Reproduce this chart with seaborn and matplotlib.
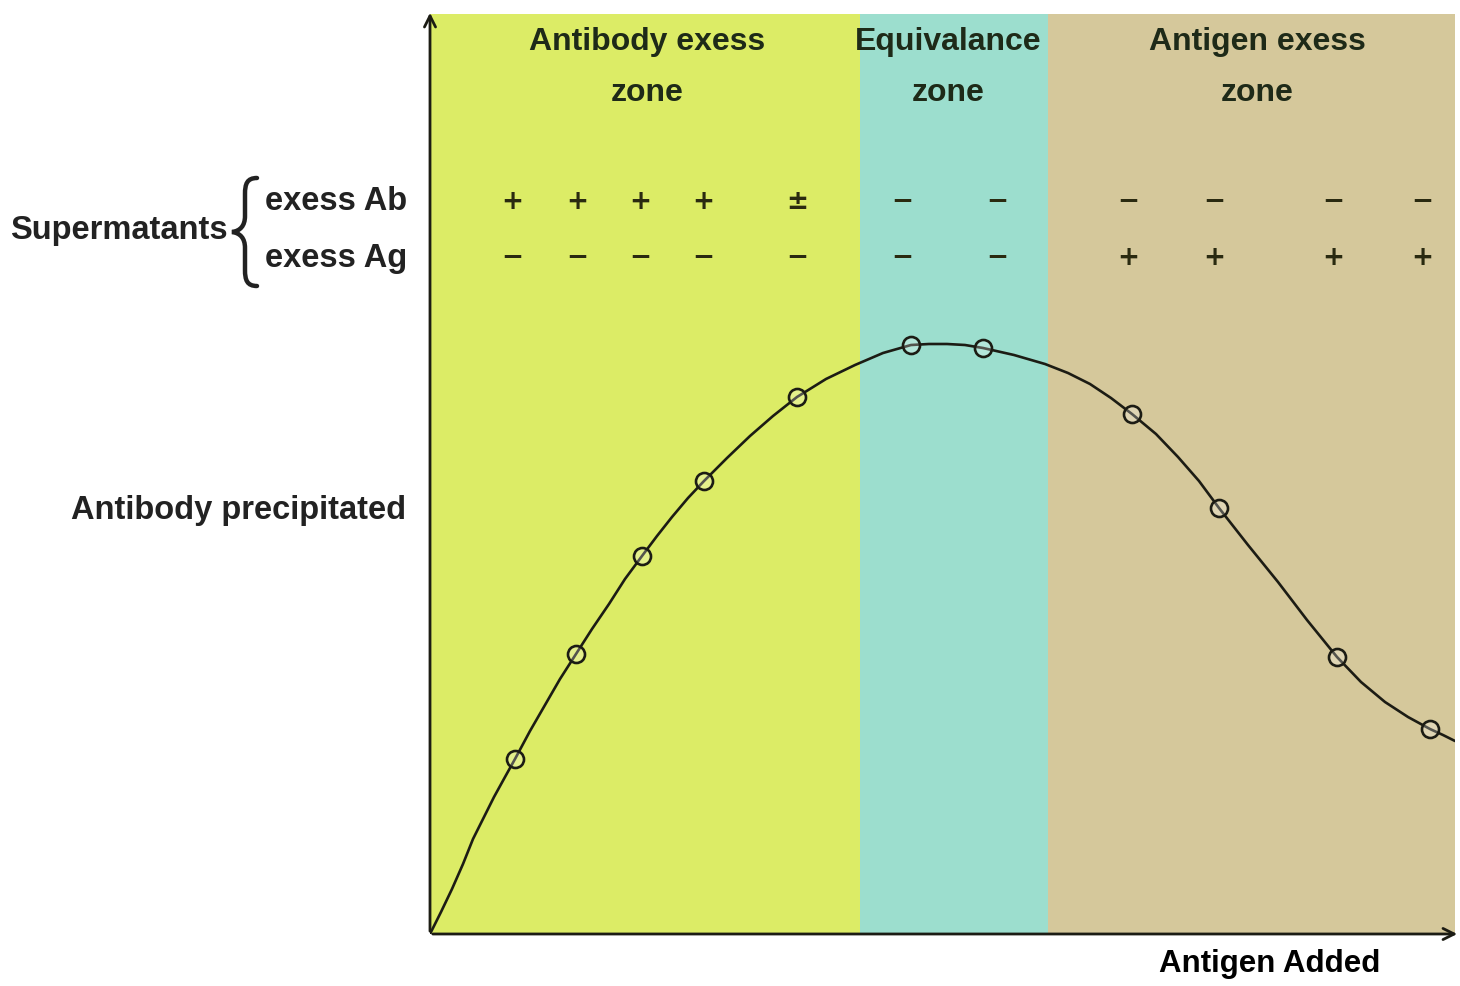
### Precipitin curve: antibody precipitated vs antigen added
import matplotlib
matplotlib.use("Agg")
import matplotlib.pyplot as plt
from matplotlib.path import Path
from matplotlib.patches import PathPatch
import seaborn as sns

# zone boundaries along the antigen axis and zone colours
zone_edges = [0, 430, 618, 1025]
zone_colors = ["#dcec66", "#9cdece", "#d5c89b"]
zone_line1 = ["Antibody exess", "Equivalance", "Antigen exess"]
zone_line2 = ["zone", "zone", "zone"]
zone_centers = [217, 518, 827]

# supernatant test results for each tube
tube_x = [82, 147, 210, 273, 367, 472, 567, 698, 784, 903, 992]
excess_ab = ["+", "+", "+", "+", "±", "−", "−", "−", "−", "−", "−"]
excess_ag = ["−", "−", "−", "−", "−", "−", "−", "+", "+", "+", "+"]

# measured tubes (markers)
point_x = [85, 146, 212, 274, 367, 481, 553, 702, 789, 907, 1000]
point_y = [175, 280, 378, 453, 537, 589, 586, 520, 426, 277, 205]

# curve traced through the tubes
curve_x = [0, 11, 22, 33, 43, 54, 64, 75, 85, 100, 115, 130, 146, 162, 179, 195,
           212, 227, 242, 258, 274, 297, 320, 343, 367, 396, 425, 453, 481, 499,
           517, 535, 553, 584, 615, 638, 660, 681, 702, 726, 748, 769, 789, 818,
           848, 877, 907, 931, 955, 978, 1000, 1013, 1025]
curve_y = [0, 22, 45, 70, 95, 117, 137, 157, 175, 203, 229, 255, 280, 305, 330, 355,
           378, 398, 417, 436, 453, 476, 498, 518, 537, 555, 569, 581, 589, 590,
           590, 589, 586, 579, 570, 561, 550, 536, 520, 500, 477, 453, 426, 389,
           352, 314, 277, 252, 232, 217, 205, 199, 193]

sns.set_style("white")
plt.rcParams['font.family'] = ['Liberation Sans', 'DejaVu Sans']

fig = plt.figure(figsize=(14.6, 9.87), dpi=100)
ax = fig.add_axes([430 / 1460, 52 / 987, 1025 / 1460, 920 / 987])
ax.set_xlim(0, 1025)
ax.set_ylim(0, 920)

# coloured zones
for i in range(3):
    ax.axvspan(zone_edges[i], zone_edges[i + 1], color=zone_colors[i], lw=0, zorder=0)
    ax.text(zone_centers[i], 893, zone_line1[i], ha='center', va='center',
            fontsize=23, fontweight='bold', color='#1e2a18')
    ax.text(zone_centers[i], 842, zone_line2[i], ha='center', va='center',
            fontsize=23, fontweight='bold', color='#1e2a18')

# plus / minus signs
for x, a, g in zip(tube_x, excess_ab, excess_ag):
    ax.text(x, 733, a, ha='center', va='center', fontsize=19, fontweight='bold',
            color='#2a2a10', family=['DejaVu Sans'])
    ax.text(x, 677, g, ha='center', va='center', fontsize=19, fontweight='bold',
            color='#2a2a10', family=['DejaVu Sans'])

# curve and markers
sns.lineplot(x=curve_x, y=curve_y, ax=ax, color='#1c1c14', linewidth=1.9,
             sort=False, estimator=None, zorder=3)
sns.scatterplot(x=point_x, y=point_y, ax=ax, s=150, marker='o',
                facecolor=(1, 1, 1, 0.25), edgecolor='#1c1c14', linewidth=1.9,
                zorder=4)

# axes drawn as arrows
for s in ax.spines.values():
    s.set_visible(False)
ax.set_xticks([])
ax.set_yticks([])
ax.annotate('', xy=(0, 924), xytext=(0, 0), annotation_clip=False,
            arrowprops=dict(arrowstyle='->', color='#1c1c14', lw=2, mutation_scale=20))
ax.annotate('', xy=(1030, 0), xytext=(0, 0), annotation_clip=False,
            arrowprops=dict(arrowstyle='->', color='#1c1c14', lw=2, mutation_scale=20))

# curly brace grouping the two supernatant rows
bx, by, h = -185, 702, 54
brace = Path(
    [(bx + 12, by + h), (bx + 2, by + h), (bx, by + h - 6), (bx, by + h - 16),
     (bx, by + 16), (bx, by + 6), (bx - 5, by + 1), (bx - 13, by),
     (bx - 5, by - 1), (bx, by - 6), (bx, by - 16),
     (bx, by - h + 16), (bx, by - h + 6), (bx + 2, by - h), (bx + 12, by - h)],
    [Path.MOVETO, Path.CURVE4, Path.CURVE4, Path.CURVE4,
     Path.LINETO, Path.CURVE4, Path.CURVE4, Path.CURVE4,
     Path.CURVE4, Path.CURVE4, Path.CURVE4,
     Path.LINETO, Path.CURVE4, Path.CURVE4, Path.CURVE4])
ax.add_patch(PathPatch(brace, facecolor='none', edgecolor='#222222', lw=3.2,
                       capstyle='round', clip_on=False))

# labels on the left
ax.text(-202, 705, "Supermatants", ha='right', va='center', fontsize=23.5,
        fontweight='bold', color='#222222', clip_on=False)
ax.text(-165, 733, "exess Ab", ha='left', va='center', fontsize=23.5,
        fontweight='bold', color='#222222', clip_on=False)
ax.text(-165, 677, "exess Ag", ha='left', va='center', fontsize=23.5,
        fontweight='bold', color='#222222', clip_on=False)
ax.text(-24, 425, "Antibody precipitated", ha='right', va='center', fontsize=23.5,
        fontweight='bold', color='#222222', clip_on=False)
ax.text(840, -29, "Antigen Added", ha='center', va='center', fontsize=22.5,
        fontweight='bold', color='black', clip_on=False)

plt.savefig('out.png', dpi=100)
